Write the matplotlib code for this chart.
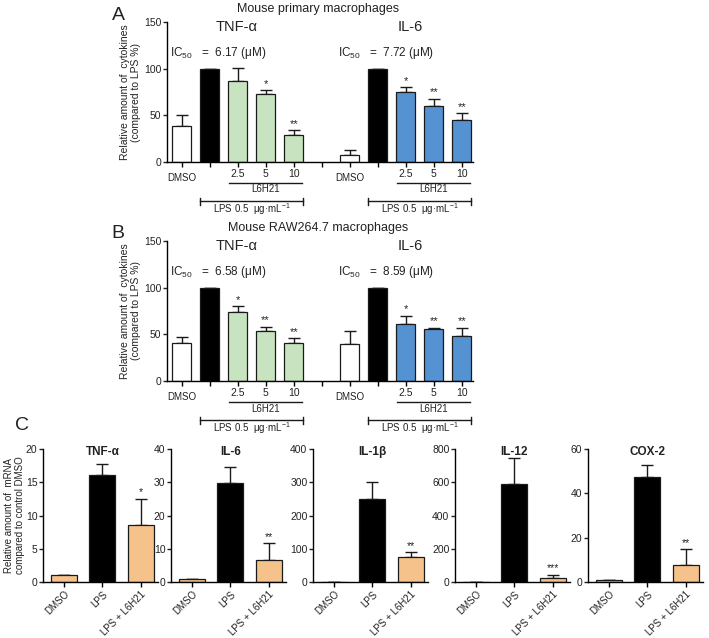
import matplotlib
matplotlib.use("Agg")
import matplotlib.pyplot as plt
import numpy as np

plt.rcParams["font.family"] = ["Liberation Sans", "DejaVu Sans"]
plt.rcParams["axes.linewidth"] = 1.0
plt.rcParams["mathtext.fontset"] = "custom"
plt.rcParams["mathtext.rm"] = "Liberation Sans"

# ---- data -------------------------------------------------------------
GROUP_LABELS = ["DMSO", "", "2.5", "5", "10"]

A_TNF_MEAN = [39, 100, 87, 73, 29]
A_TNF_ERR = [11, 0, 14, 4, 5]
A_TNF_STARS = ["", "", "", "*", "**"]
A_IL6_MEAN = [7, 100, 75, 60, 45]
A_IL6_ERR = [6, 0, 5, 8, 7]
A_IL6_STARS = ["", "", "*", "**", "**"]
A_IC50 = ["6.17", "7.72"]

B_TNF_MEAN = [41, 100, 74, 54, 41]
B_TNF_ERR = [6, 0, 6, 4, 5]
B_TNF_STARS = ["", "", "*", "**", "**"]
B_IL6_MEAN = [40, 100, 61, 56, 48]
B_IL6_ERR = [14, 0, 9, 1, 9]
B_IL6_STARS = ["", "", "*", "**", "**"]
B_IC50 = ["6.58", "8.59"]

C_GENES = ["TNF-α", "IL-6", "IL-1β", "IL-12", "COX-2"]
C_CONDITIONS = ["DMSO", "LPS", "LPS + L6H21"]
C_MEAN = [[1, 16.1, 8.6], [1, 29.8, 6.6], [1, 250, 75], [1, 592, 26], [1, 47.2, 7.7]]
C_ERR = [[0, 1.7, 3.9], [0, 4.9, 5.0], [0, 50, 15], [0, 154, 18], [0, 5.5, 7.1]]
C_STARS = ["*", "**", "**", "***", "**"]
C_YMAX = [20, 40, 400, 800, 60]
C_YSTEP = [5, 10, 100, 200, 20]

GREEN = "#c8e3c0"
BLUE = "#5592d2"
ORANGE = "#f6c28c"
TXT = "#222222"

W, H = 709, 638
fig = plt.figure(figsize=(W / 100, H / 100), dpi=100)


def px_axes(left, top, right, bottom):
    return fig.add_axes([left / W, (H - bottom) / H, (right - left) / W, (bottom - top) / H])


def fig_text(x, y, s, **kw):
    fig.text(x / W, 1 - y / H, s, **kw)


def draw_bars(ax, xs, means, errs, colors, stars, width, star_size):
    ax.bar(xs, means, width=width, color=colors, edgecolor="#1a1a1a", linewidth=0.9, zorder=2)
    ax.errorbar(xs, means, yerr=[np.zeros(len(errs)), errs], fmt="none",
                ecolor="#1a1a1a", elinewidth=1.0, capsize=4.5, capthick=1.0, zorder=1)
    for x, m, e, s in zip(xs, means, errs, stars):
        if s:
            ax.annotate(s, (x, m + e), xytext=(0, 1), textcoords="offset points",
                        ha="center", va="bottom", fontsize=star_size, color=TXT)


def cytokine_panel(top, bottom, letter, title, tnf, il6, ic50):
    ax = px_axes(167, top, 473, bottom)
    h = bottom - top
    for spine in ["top", "right"]:
        ax.spines[spine].set_visible(False)
    ax.set_xlim(-0.52, 10.4)
    ax.set_ylim(0, 150)
    ax.set_yticks([0, 50, 100, 150])
    ax.tick_params(axis="y", labelsize=7.5, length=3, width=1, pad=1, colors=TXT)
    ax.set_xticks(range(11))
    ax.set_xticklabels([])
    ax.tick_params(axis="x", length=3.5, width=1)
    ax.set_ylabel("Relative amount of  cytokines\n(compared to LPS %)", fontsize=7.5,
                  color=TXT, linespacing=1.1)
    ax.yaxis.set_label_coords(-0.085, 0.5)
    tr = ax.get_xaxis_transform()

    def fy(dy):
        # dy = pixels below the x axis
        return -dy / h

    for offset, (means, errs, stars), color in [(0, tnf, GREEN), (6, il6, BLUE)]:
        xs = np.arange(5) + offset
        cols = ["white", "black", color, color, color]
        draw_bars(ax, xs, means, errs, cols, stars, 0.68, 8)

        ax.text(offset, fy(16), "DMSO", ha="center", va="center", fontsize=7, color=TXT,
                transform=tr, clip_on=False)
        for i, lab in enumerate(GROUP_LABELS[2:]):
            ax.text(offset + 2 + i, fy(12), lab, ha="center", va="center", fontsize=7.5,
                    color=TXT, transform=tr, clip_on=False)
        ax.plot([offset + 1.7, offset + 4.3], [fy(20.5)] * 2, color="#1a1a1a", lw=1,
                transform=tr, clip_on=False)
        ax.text(offset + 3, fy(27.5), "L6H21", ha="center", va="center", fontsize=7,
                color=TXT, transform=tr, clip_on=False)
        ax.plot([offset + 0.66, offset + 4.34], [fy(39)] * 2, color="#1a1a1a", lw=1,
                transform=tr, clip_on=False)
        for xe in (offset + 0.66, offset + 4.34):
            ax.plot([xe, xe], [fy(35.5), fy(42.5)], color="#1a1a1a", lw=1,
                    transform=tr, clip_on=False)
        ax.text(offset + 2.5, fy(47), "LPS 0.5  μg·mL$^{-1}$", ha="center", va="center",
                fontsize=7, color=TXT, transform=tr, clip_on=False)

    fig_text(118, top - 7, letter, fontsize=14, ha="center", va="center", color=TXT)
    fig_text(318, top - 13, title, fontsize=9, ha="center", va="center", color=TXT)
    fig_text(237, top + 5, "TNF-α", fontsize=10.5, ha="center", va="center", color=TXT)
    fig_text(410, top + 5, "IL-6", fontsize=10.5, ha="center", va="center", color=TXT)
    fig_text(170, top + 31, "IC$_{50}$   =  %s (μM)" % ic50[0], fontsize=8.5, ha="left",
             va="center", color=TXT)
    fig_text(338, top + 31, "IC$_{50}$   =  %s (μM)" % ic50[1], fontsize=8.5, ha="left",
             va="center", color=TXT)


cytokine_panel(22, 162, "A", "Mouse primary macrophages",
               (A_TNF_MEAN, A_TNF_ERR, A_TNF_STARS), (A_IL6_MEAN, A_IL6_ERR, A_IL6_STARS), A_IC50)
cytokine_panel(241, 381, "B", "Mouse RAW264.7 macrophages",
               (B_TNF_MEAN, B_TNF_ERR, B_TNF_STARS), (B_IL6_MEAN, B_IL6_ERR, B_IL6_STARS), B_IC50)

# ---- panel C ------------------------------------------------------------
C_LEFTS = [43, 171, 313, 455, 588]
for k, gene in enumerate(C_GENES):
    left = C_LEFTS[k]
    ax = px_axes(left, 449, left + 115, 582)
    for spine in ["top", "right"]:
        ax.spines[spine].set_visible(False)
    ax.set_xlim(-0.55, 2.45)
    ax.set_ylim(0, C_YMAX[k])
    ax.set_yticks(np.arange(0, C_YMAX[k] + 1, C_YSTEP[k]))
    ax.tick_params(axis="y", labelsize=7.5, length=3, width=1, pad=1, colors=TXT)
    ax.set_xticks(range(3))
    ax.set_xticklabels(C_CONDITIONS, rotation=45, ha="right", rotation_mode="anchor",
                       fontsize=7, color=TXT)
    ax.tick_params(axis="x", length=3.5, width=1, pad=1.5)
    xs = np.arange(3)
    draw_bars(ax, xs, C_MEAN[k], C_ERR[k], [ORANGE, "black", ORANGE],
              ["", "", C_STARS[k]], 0.68, 7.5)
    ax.text(1.0, 0.975, gene, transform=ax.get_xaxis_transform(), fontsize=8.5,
            fontweight="bold", color=TXT, ha="center", va="center")
    if k == 0:
        ax.set_ylabel("Relative amount of  mRNA\ncompared to control DMSO", fontsize=7,
                      color=TXT, linespacing=1.1)
        ax.yaxis.set_label_coords(-0.16, 0.5)

fig_text(22, 425, "C", fontsize=14, ha="center", va="center", color=TXT)

fig.savefig("out.png", dpi=100)
